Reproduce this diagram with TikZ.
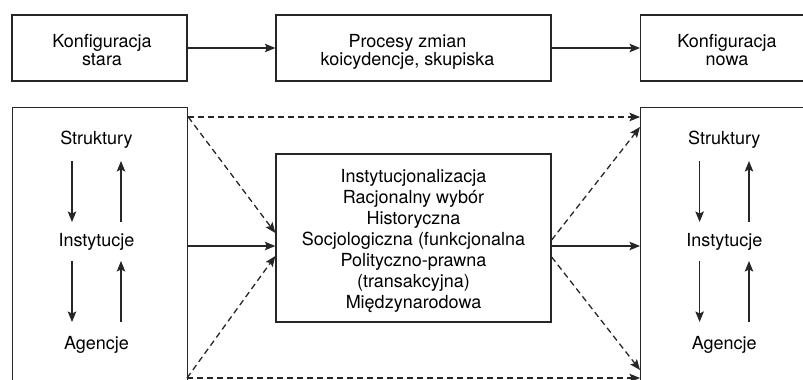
\documentclass[tikz,border=0pt]{standalone}
\usepackage{fontspec}
\setmainfont{TeX Gyre Heros}
\usetikzlibrary{arrows.meta,calc}
\begin{document}
\begin{tikzpicture}[x=1pt,y=-1pt,
  every node/.style={font=\fontsize{18pt}{21pt}\selectfont, align=center, inner sep=0pt},
  toptext/.style={font=\fontsize{18pt}{18pt}\selectfont},
  box/.style={draw=black!85, line width=1.3pt, rectangle},
  arr/.style={line width=1.3pt, draw=black!85, -{Stealth[length=10.5pt,width=8.5pt,inset=2pt]}},
  darr/.style={arr, dash pattern=on 6pt off 4pt}]
\useasboundingbox (0,0) rectangle (803,380);
\clip (0,0) rectangle (803,380);
\fill[white] (0,0) rectangle (803,380);
% top row
\node[box, minimum width=175pt, minimum height=66pt] (old) at (99.5,48) {};
\node[toptext] (oldt) at (102,50.2) {Konfiguracja\\stara};
\node[box, minimum width=275pt, minimum height=66pt] (proc) at (413.5,48) {};
\node[toptext] (proct) at (407.5,52.1) {Procesy zmian\\koicydencje, skupiska};
\node[box, minimum width=180pt, minimum height=66pt, anchor=west] (new) at (640,48) {};
\node[toptext] (newt) at (727,50.2) {Konfiguracja\\nowa};
\draw[arr] (old.east) -- (proc.west);
\draw[arr] (proc.east) -- (new.west);
% bottom row boxes
\node[box, minimum width=175pt, minimum height=300pt, anchor=north west] (L) at (12,107) {};
\node[box, minimum width=180pt, minimum height=300pt, anchor=north west] (R) at (640,107) {};
\node[box, minimum width=275pt, minimum height=168pt] (C) at (413.5,238) {};
\node (Ct) at (413.5,241.3)
  {Instytucjonalizacja\\Racjonalny wybór\\Historyczna\\Socjologiczna (funkcjonalna\\Polityczno-prawna\\(transakcyjna)\\Międzynarodowa};
% left box content
\node[anchor=base] (S1) at (96.5,144.5) {Struktury};
\node[anchor=base] (I1) at (96.5,246.5) {Instytucje};
\node[anchor=base] (A1) at (96.5,349.5) {Agencje};
\draw[arr] ($(S1.base)+(-24.5,16.5)$) -- ($(I1.base)+(-24.5,-24.5)$);
\draw[arr] ($(I1.base)+(24.5,-24.5)$) -- ($(S1.base)+(24.5,16.5)$);
\draw[arr] ($(I1.base)+(-24.5,14.5)$) -- ($(A1.base)+(-24.5,-27.5)$);
\draw[arr] ($(A1.base)+(24.5,-27.5)$) -- ($(I1.base)+(24.5,14.5)$);
% right box content
\node[anchor=base] (S2) at (724.3,144.5) {Struktury};
\node[anchor=base] (I2) at (724.3,246.5) {Instytucje};
\node[anchor=base] (A2) at (724.3,349.5) {Agencje};
\draw[arr] ($(S2.base)+(-24.7,16.5)$) -- ($(I2.base)+(-24.7,-24.5)$);
\draw[arr] ($(I2.base)+(24.7,-24.5)$) -- ($(S2.base)+(24.7,16.5)$);
\draw[arr] ($(I2.base)+(-24.7,14.5)$) -- ($(A2.base)+(-24.7,-27.5)$);
\draw[arr] ($(A2.base)+(24.7,-27.5)$) -- ($(I2.base)+(24.7,14.5)$);
% connectors between bottom boxes
\coordinate (Ltop) at ($(L.north east)+(0,10)$);
\coordinate (Lbot) at (187,378);
\coordinate (Rtop) at ($(R.north west)+(0,10)$);
\coordinate (Rtop2) at ($(R.north west)+(0,20)$);
\coordinate (Rbot) at (640,378);
\coordinate (Rbot2) at (640,370);
\draw[darr] (Ltop) -- (Rtop);
\draw[darr] (Lbot) -- (Rbot);
\draw[darr] (Ltop) -- ($(C.west)+(0,-5)$);
\draw[darr] (Lbot) -- ($(C.west)+(0,18)$);
\draw[arr] (L.east |- 0,246) -- (C.west |- 0,246);
\draw[darr] ($(C.east)+(0,2)$) -- (Rtop2);
\draw[arr] (C.east |- 0,246) -- (R.west |- 0,246);
\draw[darr] ($(C.east)+(0,19)$) -- (Rbot2);
\end{tikzpicture}
\end{document}
